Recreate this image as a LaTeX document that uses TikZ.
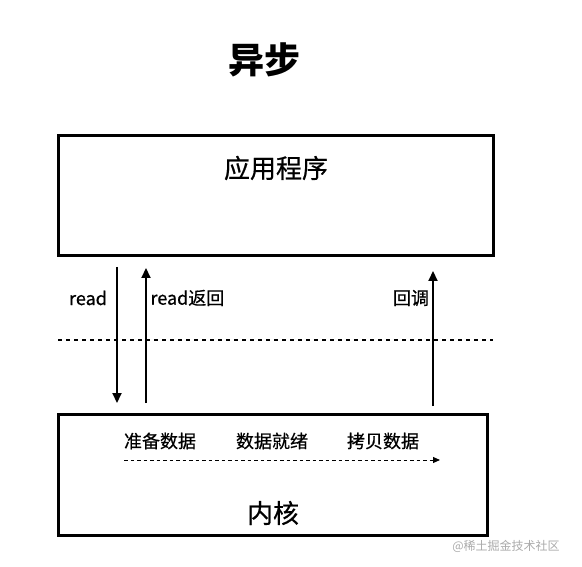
\documentclass[tikz,border=0pt]{standalone}
\usepackage{fontspec}
\setmainfont{Noto Sans CJK SC}
\newfontfamily\medfont{Noto Sans CJK SC}[FakeBold=0.6]
\definecolor{MarkColor}{RGB}{170,170,170}
\usetikzlibrary{arrows.meta, positioning}

\begin{document}
\begin{tikzpicture}[x=1pt, y=-1pt,
    flow/.style={-{Triangle[length=10pt, width=9pt]}, line width=2.2pt},
    lbl/.style={font=\medfont\fontsize{18}{21}\selectfont}]
  \useasboundingbox (0,0) rectangle (582,567);
  % title
  \node[font=\fontsize{36}{40}\selectfont\bfseries] (title) at (264,60) {异步};
  % boxes
  \draw[line width=3pt] (58,136) rectangle (493,256);
  \draw[line width=3pt] (58,414) rectangle (487,535);
  \node[font=\medfont\fontsize{26}{30}\selectfont] (app) at (276,168) {应用程序};
  \node[font=\medfont\fontsize{26}{30}\selectfont] (kernel) at (273,513) {内核};
  % user / kernel boundary
  \draw[line width=1.2pt, dash pattern=on 4pt off 4pt] (58,340) -- (493,340);
  % calls
  \coordinate (readS) at (117,267);   \coordinate (readE) at (117,403);
  \coordinate (retS) at (146,403);    \coordinate (retE) at (146,268);
  \coordinate (cbS) at (433,406);     \coordinate (cbE) at (433,271);
  \draw[flow] (readS) -- (readE);
  \draw[flow] (retS) -- (retE);
  \draw[flow] (cbS) -- (cbE);
  \node[lbl] (readL) at (88,298) {read};
  \node[lbl, anchor=west] (retL) at (147,298) {read返回};
  \node[lbl] (cbL) at (411,298) {回调};
  % kernel steps
  \node[lbl] (prep) at (160,441) {准备数据};
  \node[lbl] (ready) at (272,441) {数据就绪};
  \node[lbl] (copy) at (383,441) {拷贝数据};
  \coordinate (stepS) at (124,460);   \coordinate (stepE) at (440,460);
  \draw[-{Triangle[length=7pt, width=6pt]}, line width=1pt, dash pattern=on 3.5pt off 3pt] (stepS) -- (stepE);
  \node[MarkColor, font=\fontsize{12}{14}\selectfont] (mark) at (506,546) {@稀土掘金技术社区};
\end{tikzpicture}
\end{document}
